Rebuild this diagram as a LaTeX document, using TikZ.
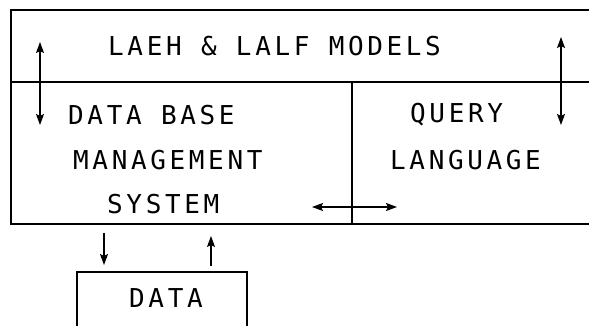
\documentclass[tikz,border=0pt]{standalone}
\usepackage{fontspec}
\usetikzlibrary{arrows.meta, positioning}
\newfontfamily\plotfont[LetterSpace=14]{DejaVu Sans Mono}

\tikzset{
    frame/.style={line width=1.2pt, line cap=round},
    link/.style={line width=1.1pt, {Stealth[length=11pt,width=8pt,inset=2pt]}-{Stealth[length=11pt,width=8pt,inset=2pt]}},
    onelink/.style={line width=1.1pt, -{Stealth[length=11pt,width=8pt,inset=2pt]}},
    label/.style={anchor=base west, inner sep=0pt, font=\plotfont\fontsize{26}{26}\selectfont}
}

\begin{document}
\begin{tikzpicture}[x=1pt, y=1pt]
            \useasboundingbox (0,0) rectangle (589,326);

            % Models band
            \draw[frame] (589,316) -- (11,316) -- (11,102) -- (589,102);
            \draw[frame] (11,244) -- (589,244);
            \node[label] (models) at (108,270) {LAEH \& LALF MODELS};

            % Data base management system
            \draw[frame] (352,244) -- (352,102);
            \node[label] (dbmsa) at (68,201) {DATA BASE};
            \node[label] (dbmsb) at (73,156) {MANAGEMENT};
            \node[label] (dbmsc) at (107,112) {SYSTEM};

            % Query language
            \node[label] (querya) at (410,203) {QUERY};
            \node[label] (queryb) at (390,156) {LANGUAGE};

            % Data
            \draw[frame] (77,0) -- (77,54) -- (247,54) -- (247,0);
            \node[label] (data) at (129,18) {DATA};

            % Arrows
            \coordinate (lt) at (40,284);
            \coordinate (lb) at (40,201);
            \coordinate (rt) at (561,289);
            \coordinate (rb) at (561,201);
            \coordinate (hl) at (312,119);
            \coordinate (hr) at (397,119);
            \coordinate (dt) at (104,93);
            \coordinate (db) at (104,61);
            \coordinate (ub) at (211,60);
            \coordinate (ut) at (211,90);
            \draw[link] (lt) -- (lb);
            \draw[link] (rt) -- (rb);
            \draw[link] (hl) -- (hr);
            \draw[onelink] (dt) -- (db);
            \draw[onelink] (ub) -- (ut);
        \end{tikzpicture}
\end{document}
